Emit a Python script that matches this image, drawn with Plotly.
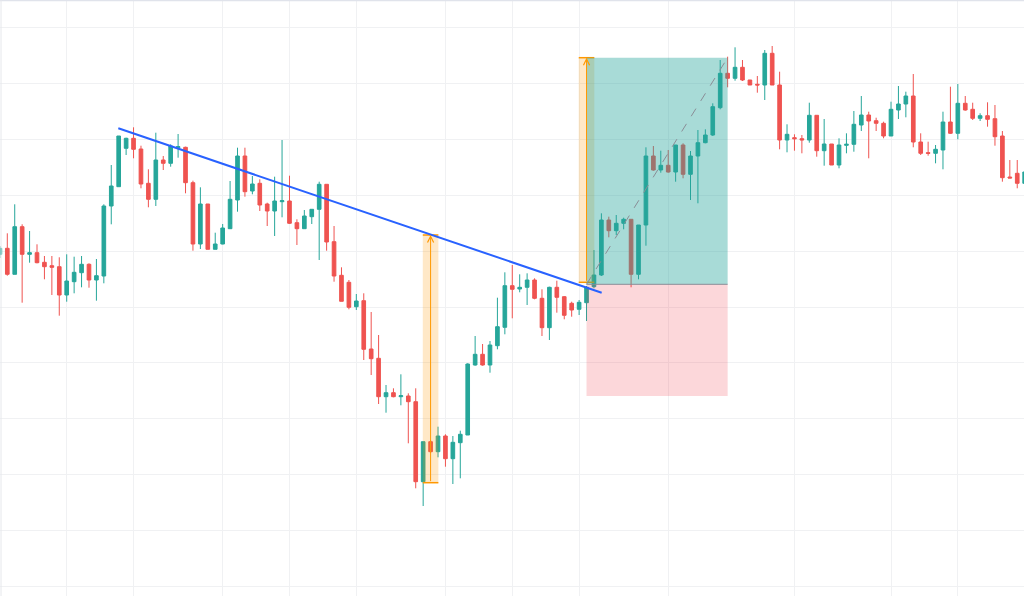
import plotly.graph_objects as go

# candle data, index = bar number, prices in chart points
bars = list(range(139))

open_ = [345.7, 351.7, 325.7, 373.3, 345.7, 347.3, 337.7, 334.3, 333.3, 305,
         318.3, 327.3, 335.7, 320, 324, 394, 413.3, 451.7, 461.7, 451,
         416.7, 400.7, 440, 436.7, 452.3, 452.7, 417.3, 356, 396, 350.7,
         356, 371.3, 400, 444, 409, 416.7, 396, 389, 398.3, 399,
         377.3, 371.3, 383.3, 390.7, 415.7, 358.3, 324.7, 317.7, 293.3, 299.3,
         251, 241.7, 203.3, 207.3, 203.3, 204, 198.3, 118.3, 158.3, 148.3,
         164, 141.3, 157.3, 165, 235, 245.7, 235, 254.3, 272.7, 314.3,
         311, 312.7, 320, 301.7, 272.3, 312.7, 303.3, 296.7, 290.7, 297.3,
         313.3, 325, 380, 369.3, 376.7, 380.7, 325.7, 375, 444, 430,
         434.7, 428, 455, 425.7, 444, 457.3, 465, 492.3, 526.7, 521.7,
         532.7, 520, 515.7, 515, 546.7, 515, 460, 462.3, 461.3, 460,
         484.7, 449.3, 456, 435, 454.7, 455.7, 475, 485, 479.3, 476.7,
         464, 490, 496, 504, 458, 447.3, 446.7, 450, 478, 466.7,
         496.7, 490.7, 481.7, 484.3, 481.3, 464, 423, 426.7, 416.7]

close = [351.7, 325.7, 373.3, 345.7, 347.3, 337.3, 333.3, 332.7, 305, 319,
         327.7, 335.7, 320, 324.3, 394, 414, 464, 461.7, 450.7, 416,
         400.7, 440, 436.7, 454, 453.3, 417.3, 356, 396, 350.7, 356,
         372, 400.7, 444, 408.3, 416, 395, 389, 399, 399.3, 376.7,
         371.3, 384, 390.7, 415.7, 358, 324, 298.7, 292.7, 299, 250.7,
         241.3, 203.3, 207.3, 203.3, 204.3, 198.3, 118.3, 158.3, 148.3, 164,
         141.3, 157.7, 165.7, 236, 245.7, 235, 255, 273.3, 314.3, 310.7,
         312.7, 320, 301.7, 272.3, 312.7, 302.7, 284.7, 290, 297.7, 312.7,
         325, 380, 369.3, 376.7, 380.7, 325.7, 375, 444, 430, 434.7,
         428, 455, 425.7, 444, 457.3, 465, 493.3, 526.7, 521.7, 532.7,
         520, 515, 515, 546.7, 515, 460, 465.7, 461.3, 460, 484.7,
         449.3, 456, 435, 455, 455.7, 475.7, 485, 479, 476.7, 464,
         490.7, 496, 504, 458, 446.7, 446.7, 450.7, 478, 466.7, 496.7,
         490, 481.7, 484.3, 480.7, 463.3, 422.3, 422, 416.7, 428]

high = [354, 366.7, 395.7, 375.7, 369, 355.7, 344, 344, 342.7, 345.7,
        343.3, 344, 336.7, 341, 395.7, 435, 464, 462.3, 472.7, 454.3,
        430.7, 467.3, 444, 455.7, 466, 453.3, 419.3, 412.7, 396, 367.3,
        376, 419, 452.3, 452.3, 424, 420.7, 397.3, 423.3, 460, 424.3,
        380.7, 390, 390.7, 418.3, 415.7, 374, 332.7, 320, 306, 306.7,
        288, 265, 215, 211.7, 225.7, 206.7, 211.7, 158.3, 160, 173.3,
        165.7, 164, 169.3, 236.7, 264, 256, 259, 302.3, 327.7, 335,
        325.7, 326.7, 321.7, 310.7, 313.3, 319.3, 304, 298.3, 300, 314,
        350, 386.7, 383.3, 385, 382.3, 380.7, 375, 452.7, 454, 449.3,
        450, 455, 456.7, 449, 470, 470.7, 496.7, 540, 543.3, 552.7,
        540, 520, 524, 550, 554, 528.3, 475.7, 465.7, 465, 497.3,
        484.7, 481, 456, 461.7, 466.7, 489, 504, 488.3, 482.3, 478.3,
        498.3, 514, 508.3, 526, 466.7, 458.3, 455, 488.3, 513.3, 516,
        504, 497.3, 486.7, 497.7, 495, 469, 440, 440, 430]

low = [342, 324.3, 325.7, 297.3, 337.3, 336.7, 320.7, 305, 284.3, 298.3,
       306.7, 312.7, 312.3, 299.3, 316.7, 375.7, 413.3, 445, 441.7, 411.7,
       392.7, 394, 430, 433.3, 442.3, 406.7, 349.3, 351, 350.7, 350.7,
       355.7, 371, 388.3, 403.3, 405.7, 389, 374, 364, 382.7, 376,
       355, 371.3, 376, 340, 349.3, 318.3, 298.7, 290.7, 290, 240,
       225, 196, 187.3, 202.7, 194.7, 156.7, 111.7, 94, 147, 142.7,
       133.3, 116, 121.7, 165, 234.3, 234.3, 227.3, 250.7, 265.7, 281.7,
       307.7, 295, 300.7, 264, 260, 287.3, 280.7, 283.3, 285, 279,
       311.7, 324, 362.7, 365, 370.7, 312.7, 320.7, 354.3, 429.3, 427.3,
       427.3, 418.3, 421.7, 400, 396.7, 456.7, 464, 490.7, 512.7, 519.3,
       519, 515, 507.3, 500, 515, 450.7, 447.7, 449.3, 446.7, 457.3,
       443.3, 434.3, 435, 431.7, 446.7, 448.3, 469, 441.7, 469, 461.7,
       464, 481, 482.7, 452.7, 445, 444.3, 436.7, 430.7, 466, 460.7,
       489.3, 480, 479, 473.3, 454.3, 418.3, 422, 411.7, 414]

# grid levels
grid_bars = [9, 18, 30, 39, 48, 60, 69, 78, 90, 107, 120, 129]
grid_prices = [572.7, 516.8, 460.8, 404.9, 348.9, 293.0, 237.1, 181.1, 125.2, 69.2, 13.3]

# drawings
trend_bars = [15.95, 81.04]
trend_prices = [471.7, 307.3]

range_bars = [58, 79]
range_tops = [365.0, 542.3]
range_bottoms = [117.3, 317.7]

pos_start = 79
pos_end = 98
entry = 315.7
target = 542.3
stop = 204.0

GREEN = '#26A69A'
RED = '#EF5350'
ORANGE = '#FF9800'
GRID = '#F0F1F3'

fig = go.Figure(go.Candlestick(
    x=bars, open=open_, high=high, low=low, close=close,
    increasing=dict(line=dict(color=GREEN, width=1), fillcolor=GREEN),
    decreasing=dict(line=dict(color=RED, width=1), fillcolor=RED),
    whiskerwidth=0, hoverinfo='skip'))

shapes = []
half = 1.05
for b, top, bot in zip(range_bars, range_tops, range_bottoms):
    shapes.append(dict(type='rect', xref='x', yref='y', x0=b - half, x1=b + half,
                       y0=bot, y1=top, fillcolor='rgba(255,152,0,0.22)',
                       line=dict(width=0), layer='above'))
    for lvl in (top, bot):
        shapes.append(dict(type='line', xref='x', yref='y', x0=b - half, x1=b + half,
                           y0=lvl, y1=lvl, line=dict(color=ORANGE, width=1.5),
                           layer='above'))

# long position box
shapes.append(dict(type='rect', xref='x', yref='y', x0=pos_start, x1=pos_end,
                   y0=entry, y1=target, fillcolor='rgba(38,166,154,0.4)',
                   line=dict(width=0), layer='above'))
shapes.append(dict(type='rect', xref='x', yref='y', x0=pos_start, x1=pos_end,
                   y0=stop, y1=entry, fillcolor='rgba(242,54,69,0.2)',
                   line=dict(width=0), layer='above'))
shapes.append(dict(type='line', xref='x', yref='y', x0=pos_start, x1=pos_end,
                   y0=entry, y1=entry, line=dict(color='#8A8D96', width=1),
                   layer='above'))
shapes.append(dict(type='line', xref='x', yref='y', x0=pos_start, x1=pos_end,
                   y0=entry, y1=target, line=dict(color='#8A8D96', width=1, dash='dash'),
                   layer='above'))

# trend line
shapes.append(dict(type='line', xref='x', yref='y', x0=trend_bars[0], x1=trend_bars[1],
                   y0=trend_prices[0], y1=trend_prices[1],
                   line=dict(color='#2962FF', width=2), layer='above'))

# pane border
shapes.append(dict(type='line', xref='paper', yref='paper', x0=0, x1=1, y0=0.999, y1=0.999,
                   line=dict(color='#E0E3EB', width=1.5)))
shapes.append(dict(type='line', xref='paper', yref='paper', x0=0.001, x1=0.001, y0=0, y1=1,
                   line=dict(color='#E6E8EC', width=1)))

annotations = []
for b, top, bot in zip(range_bars, range_tops, range_bottoms):
    annotations.append(dict(x=b, y=top, ax=b, ay=bot, xref='x', yref='y',
                            axref='x', ayref='y', text='', showarrow=True,
                            arrowhead=5, arrowsize=1.2, arrowwidth=1,
                            arrowcolor=ORANGE))

fig.update_layout(
    width=1024, height=596,
    margin=dict(l=0, r=0, t=0, b=0),
    paper_bgcolor='white', plot_bgcolor='white',
    showlegend=False,
    shapes=shapes,
    annotations=annotations,
    xaxis=dict(range=[0.017, 137.91], tickvals=grid_bars, showticklabels=False,
               ticks='', showgrid=True, gridcolor=GRID, gridwidth=1,
               zeroline=False, showline=False, rangeslider=dict(visible=False)),
    yaxis=dict(range=[4, 600], tickvals=grid_prices, showticklabels=False,
               ticks='', showgrid=True, gridcolor=GRID, gridwidth=1,
               zeroline=False, showline=False),
)

fig.write_html("out.html", config={'displayModeBar': False},
               post_script="document.body.style.margin='0';document.body.style.overflow='hidden';")
